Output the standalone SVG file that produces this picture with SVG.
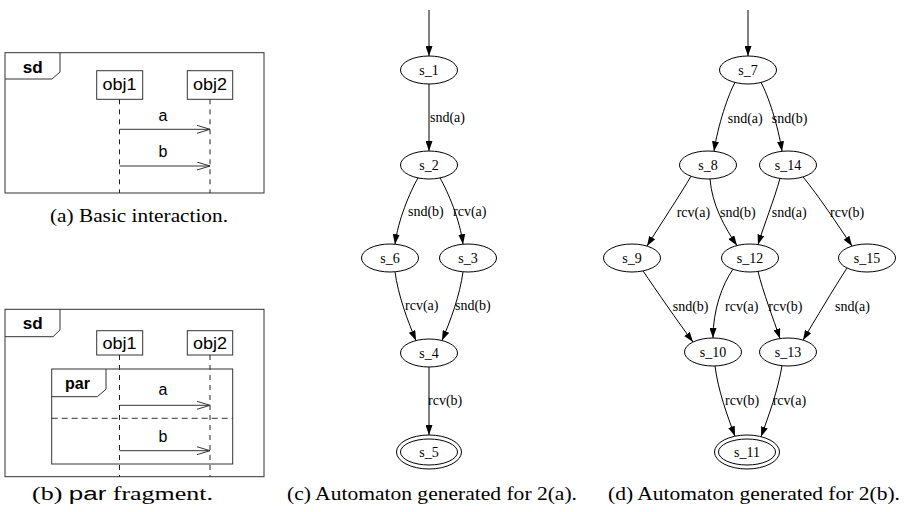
<svg xmlns="http://www.w3.org/2000/svg" width="906" height="512" viewBox="0 0 906 512">
<defs>
<marker id="fa" viewBox="0 0 10 7" refX="10" refY="3.5" markerWidth="10" markerHeight="7" markerUnits="userSpaceOnUse" orient="auto"><path d="M0,0 L10,3.5 L0,7 z" fill="#000"/></marker>
<marker id="oa" viewBox="0 0 14 9" refX="13" refY="4.5" markerWidth="14" markerHeight="9" markerUnits="userSpaceOnUse" orient="auto"><path d="M0,0.5 L13,4.5 L0,8.5" fill="none" stroke="#333" stroke-width="1"/></marker>
</defs>
<style>
.fr{fill:none;stroke:#333;stroke-width:1}
.ll{stroke:#222;stroke-width:1;stroke-dasharray:5,5}
.msg{stroke:#333;stroke-width:1;fill:none;marker-end:url(#oa)}
.sans{font-family:"Liberation Sans",Arial,sans-serif;font-size:16px;fill:#000}
.bold{font-weight:bold}
.cap{font-family:"Liberation Serif","Times New Roman",serif;font-size:18px;fill:#000}
.nd{fill:none;stroke:#000;stroke-width:1}
.nt{font-family:"Liberation Serif","Times New Roman",serif;font-size:14px;fill:#000;text-anchor:middle}
.el{font-family:"Liberation Serif","Times New Roman",serif;font-size:14px;fill:#000}
.e{fill:none;stroke:#000;stroke-width:1;marker-end:url(#fa)}
</style>

<!-- (a) Basic interaction -->
<g id="sd_a">
<rect class="fr" x="5" y="52.7" width="259" height="140.3"/>
<path class="fr" d="M5,79 L52,79 L60,72 L60,52.7"/>
<text class="sans bold" x="22.7" y="72.7" textLength="20" lengthAdjust="spacingAndGlyphs">sd</text>
</g>
<g id="obj1_a">
<rect class="fr" x="96.7" y="70.7" width="46" height="28.6"/>
<text class="sans" x="102.5" y="89.5" textLength="34" lengthAdjust="spacingAndGlyphs">obj1</text>
<line class="ll" x1="119.5" y1="99.3" x2="119.5" y2="193"/>
</g>
<g id="obj2_a">
<rect class="fr" x="187.3" y="70.7" width="45.4" height="28.6"/>
<text class="sans" x="193" y="89.5" textLength="34" lengthAdjust="spacingAndGlyphs">obj2</text>
<line class="ll" x1="210" y1="99.3" x2="210" y2="193"/>
</g>
<g id="msgs_a">
<line class="msg" x1="119.5" y1="129.3" x2="210" y2="129.3"/>
<text class="sans" x="163" y="121" text-anchor="middle">a</text>
<line class="msg" x1="119.5" y1="166" x2="210" y2="166"/>
<text class="sans" x="163" y="157" text-anchor="middle">b</text>
</g>
<text class="cap" x="50" y="222" textLength="178" lengthAdjust="spacingAndGlyphs">(a)  Basic interaction.</text>

<!-- (b) par fragment -->
<g id="sd_b">
<rect class="fr" x="5" y="309.3" width="259" height="167.4"/>
<path class="fr" d="M5,336.7 L53,336.7 L60,330 L60,309.3"/>
<text class="sans bold" x="22.7" y="328.5" textLength="20" lengthAdjust="spacingAndGlyphs">sd</text>
</g>
<g id="obj1_b">
<rect class="fr" x="96.7" y="330.7" width="46" height="24.3"/>
<text class="sans" x="102.5" y="348.5" textLength="34" lengthAdjust="spacingAndGlyphs">obj1</text>
<line class="ll" x1="119.5" y1="355" x2="119.5" y2="476.7"/>
</g>
<g id="obj2_b">
<rect class="fr" x="187.3" y="330.7" width="45.4" height="24.3"/>
<text class="sans" x="193" y="348.5" textLength="34" lengthAdjust="spacingAndGlyphs">obj2</text>
<line class="ll" x1="210" y1="355" x2="210" y2="476.7"/>
</g>
<g id="par_b">
<rect class="fr" x="51.7" y="369" width="181" height="95"/>
<path class="fr" d="M51.7,396.7 L97.3,396.7 L106,389.3 L106,369"/>
<text class="sans bold" x="65" y="389">par</text>
<line x1="51.7" y1="418.3" x2="232.7" y2="418.3" stroke="#333" stroke-width="1" stroke-dasharray="6,4"/>
</g>
<g id="msgs_b">
<line class="msg" x1="119.5" y1="405.3" x2="210" y2="405.3"/>
<text class="sans" x="163" y="395" text-anchor="middle">a</text>
<line class="msg" x1="119.5" y1="450.7" x2="210" y2="450.7"/>
<text class="sans" x="163" y="441.7" text-anchor="middle">b</text>
</g>
<text class="cap" x="32" y="500" textLength="181" lengthAdjust="spacingAndGlyphs">(b)  <tspan font-family="Liberation Sans, Arial, sans-serif">par</tspan> fragment.</text>

<!-- (c) automaton -->
<g id="s_1"><ellipse class="nd" cx="429" cy="70" rx="28.5" ry="14"/><text class="nt" x="429" y="75">s_1</text></g>
<g id="s_2"><ellipse class="nd" cx="429" cy="165" rx="28.5" ry="14"/><text class="nt" x="429" y="170">s_2</text></g>
<g id="s_6"><ellipse class="nd" cx="390" cy="258" rx="28.5" ry="14"/><text class="nt" x="390" y="263">s_6</text></g>
<g id="s_3"><ellipse class="nd" cx="468" cy="258" rx="28.5" ry="14"/><text class="nt" x="468" y="263">s_3</text></g>
<g id="s_4"><ellipse class="nd" cx="429" cy="353" rx="28.5" ry="14"/><text class="nt" x="429" y="358">s_4</text></g>
<g id="s_5"><ellipse class="nd" cx="429" cy="452" rx="28.5" ry="13"/><ellipse class="nd" cx="429" cy="452" rx="32.5" ry="17"/><text class="nt" x="429" y="457">s_5</text></g>

<!-- (d) automaton -->
<g id="s_7"><ellipse class="nd" cx="748" cy="70" rx="28.5" ry="14"/><text class="nt" x="748" y="75">s_7</text></g>
<g id="s_8"><ellipse class="nd" cx="708" cy="165" rx="28.5" ry="14"/><text class="nt" x="708" y="170">s_8</text></g>
<g id="s_14"><ellipse class="nd" cx="788" cy="165" rx="28.5" ry="14"/><text class="nt" x="788" y="170">s_14</text></g>
<g id="s_9"><ellipse class="nd" cx="632" cy="258" rx="28.5" ry="14"/><text class="nt" x="632" y="263">s_9</text></g>
<g id="s_12"><ellipse class="nd" cx="750" cy="258" rx="28.5" ry="14"/><text class="nt" x="750" y="263">s_12</text></g>
<g id="s_15"><ellipse class="nd" cx="867" cy="258" rx="28.5" ry="14"/><text class="nt" x="867" y="263">s_15</text></g>
<g id="s_10"><ellipse class="nd" cx="713" cy="352" rx="28.5" ry="14"/><text class="nt" x="713" y="357">s_10</text></g>
<g id="s_13"><ellipse class="nd" cx="788" cy="352" rx="28.5" ry="14"/><text class="nt" x="788" y="357">s_13</text></g>
<g id="s_11"><ellipse class="nd" cx="747" cy="452" rx="28.5" ry="13"/><ellipse class="nd" cx="747" cy="452" rx="32.5" ry="17"/><text class="nt" x="747" y="457">s_11</text></g>

<g id="edges">
<path class="e" d="M429,10 L429,56"/>
<path class="e" d="M429,84 L429,151"/>
<path class="e" d="M418,177.9 C410,192 398,220 395,244.2"/>
<path class="e" d="M440,177.9 C448,192 460,220 463,244.2"/>
<path class="e" d="M395,271.8 C398,295 408,322 416,340.5"/>
<path class="e" d="M463,271.8 C460,295 450,322 442,340.5"/>
<path class="e" d="M429,367 L429,435"/>

<path class="e" d="M748,10 L748,56"/>
<path class="e" d="M735,82.5 C728,95 718,125 714,151.3"/>
<path class="e" d="M761,82.5 C768,95 778,125 782,151.3"/>
<path class="e" d="M691,176.2 C680,195 660,225 647,246.1"/>
<path class="e" d="M710,179 C712,205 725,228 737,245.5"/>
<path class="e" d="M780,178.4 C774,200 764,225 758,244.6"/>
<path class="e" d="M803,176.9 C818,195 838,225 852,246.1"/>
<path class="e" d="M643,270.9 C656,290 678,322 693,342"/>
<path class="e" d="M733,269.2 C722,285 713,310 713,338"/>
<path class="e" d="M758,271.4 C763,292 773,318 780,338.6"/>
<path class="e" d="M847,268 C834,288 815,320 803,340.1"/>
<path class="e" d="M715,366 C718,390 727,415 735,436.2"/>
<path class="e" d="M782,365.7 C778,390 769,415 761,436.7"/>
</g>
<g id="edge-labels">
<text class="el" x="430" y="122">snd(a)</text>
<text class="el" x="408" y="216">snd(b)</text>
<text class="el" x="453" y="216">rcv(a)</text>
<text class="el" x="405" y="309.5">rcv(a)</text>
<text class="el" x="455" y="309.5">snd(b)</text>
<text class="el" x="428" y="404.5">rcv(b)</text>

<text class="el" x="727.7" y="122.5">snd(a)</text>
<text class="el" x="771.7" y="122.5">snd(b)</text>
<text class="el" x="676.7" y="216.5">rcv(a)</text>
<text class="el" x="720" y="216.5">snd(b)</text>
<text class="el" x="771.7" y="216.5">snd(a)</text>
<text class="el" x="830" y="216.5">rcv(b)</text>
<text class="el" x="672.7" y="310.5">snd(b)</text>
<text class="el" x="725" y="310.5">rcv(a)</text>
<text class="el" x="768.3" y="310.5">rcv(b)</text>
<text class="el" x="835" y="310.5">snd(a)</text>
<text class="el" x="725" y="404.5">rcv(b)</text>
<text class="el" x="772.7" y="404.5">rcv(a)</text>
</g>
<text class="cap" x="287" y="500" textLength="290" lengthAdjust="spacingAndGlyphs">(c)  Automaton generated for 2(a).</text>
<text class="cap" x="608" y="500" textLength="292" lengthAdjust="spacingAndGlyphs">(d)  Automaton generated for 2(b).</text>
</svg>
